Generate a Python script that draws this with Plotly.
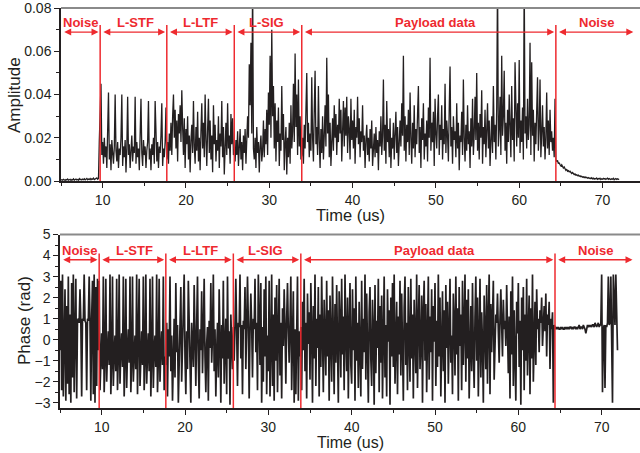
import numpy as np
import plotly.graph_objects as go

# ---------------- data (sampled every 0.1 us starting at 5.0 us) ----------------
t_start_us = 5.0
t_step_us = 0.1

# Amplitude, in units of 1e-3
amp_noise_lead = [0.3,0.6,0.4,0.8,0.5,0.3,0.7,0.5,0.9,0.4,
                  0.6,0.8,0.3,0.7,0.5,1.0,0.4,0.6,0.9,0.5,
                  0.7,0.4,1.1,0.6,0.8,0.5,0.9,0.6,1.0,0.5,
                  0.8,1.2,0.6,0.9,0.7,1.1,0.6,1.0,0.8,1.3,
                  0.7,1.0,0.9,1.4,0.8,1.2,19]
amp_stf = [30,45,12,
           18,8,20,11,16,6,22,41,10,17,
           5,19,13,8,16,40,14,9,18,6,
           15,12,20,40,7,16,11,19,4,15,
           39,12,17,6,14,21,9,16,13,39,
           8,18,11,15,5,17,38,13,7,19,
           12,16,6,14,18,37,10,15,5,17,
           12,20,8,37,14,9,18,6,16,13,
           21,36,7,15,11,18,34]
amp_ltf = [10,18,8,
           22,14,27,12,30,40,20,33,15,28,
           9,31,22,35,18,42,25,12,29,6,
           24,17,30,10,21,4,19,26,13,37,
           16,8,25,14,32,9,20,5,23,36,
           15,27,11,40,19,7,24,38,13,28,
           10,21,4,35,17,26,9,19,14,30,
           6,22,16,37,11,25,3,18,27,12,
           36,15,21,8,31,17,29,12]
amp_sig = [14,9,
           19,12,23,7,16,24,10,18,5,21,
           13,24,8,17,30,20,54,35,64,22,
           95,15,10,20,6,25,13,18,4,16,
           21,9,14,28,11,24,17,33,12,41,
           26,58,20,70,30,44,15,36,9,28,
           18,34,7,22,14,44,19,31,5,17,
           25,3,20,11,27,8,35,15,23,45,
           18,59,25,40,12,47,16,30,10]
amp_payload = [12,
    20,8,26,15,31,50,18,27,11,22,
    14,48,20,9,33,51,17,25,12,44,
    19,6,24,13,30,10,21,35,16,57,
    22,40,11,27,7,18,29,14,35,20,
    31,12,26,18,38,22,33,9,29,37,
    16,34,21,39,13,30,24,10,38,19,
    28,15,33,8,25,20,39,17,29,11,
    23,18,35,14,21,6,19,26,12,20,
    9,24,15,28,7,17,22,11,25,13,
    19,5,23,16,30,12,21,47,14,26,
    8,37,18,24,11,29,6,20,15,27,
    10,22,32,13,25,7,19,28,16,36,
    21,58,14,30,9,26,18,33,12,41,
    20,8,27,15,35,11,24,17,31,44,
    13,25,6,29,19,36,10,22,16,28,
    9,34,20,57,14,27,18,32,7,38,
    22,15,30,40,12,26,19,35,10,24,
    17,45,13,28,21,9,33,53,16,25,
    8,30,19,23,11,36,15,27,5,21,
    18,32,12,47,20,9,26,14,35,17,
    23,6,29,16,38,12,22,39,19,50,
    14,27,10,31,20,42,8,25,17,33,
    11,22,36,15,28,7,19,30,13,44,
    18,26,10,34,95,16,24,39,12,58,
    21,30,51,14,27,8,33,18,40,23,
    11,44,19,29,9,55,25,16,36,20,
    56,13,28,18,34,10,95,22,30,15,
    38,19,26,64,12,55,21,33,9,27,
    17,30,48,14,24,47,11,22,35,16,
    25,10,20,41,15,28,12,33,18,23,
    14,20,11,38]
amp_tail = [10,9,9.5,8,8.5,7.5,
    7,7.5,6.5,6,6.5,5.5,5,5.5,4.5,4.8,
    4.2,4.5,3.8,3.5,3.9,3.2,3.0,3.3,2.7,2.9,
    2.5,2.7,2.2,2.4,2.0,2.2,1.8,2.0,1.6,1.9,
    1.5,1.7,1.3,1.6,1.2,1.4,1.1,1.5,1.0,1.3,
    0.9,1.2,1.0,1.4,0.8,1.1,0.9,1.3,0.7,1.0,
    0.8,1.2,0.9,1.1,0.7,1.0,1.3,0.8,1.1,0.9,
    0.7,1.0,0.8,1.2,0.6,0.9,1.1,0.7,1.0,0.8,
    0.9]

# Phase, in units of 0.1 rad
ph_noise_lead = [-5,28,-24,31,-27,9,24,-29,16,-21,
                 30,-26,12,-30,27,-18,31,-25,8,29,
                 -28,9,10,8,24,9,-27,10,9,31,
                 9,8,-24,10,9,30,9,-29,10,28,
                 -26,31,-30,25,-22,29,-5]
ph_stf = [28,-24,-8,3,-14,30,-25,-9,
          29,-20,-6,4,-12,31,-26,-10,
          30,-22,-7,2,-15,29,-24,-8,
          31,-21,-5,3,-13,30,-27,-9,
          29,-23,-6,5,-11,30,-25,-10,
          30,-20,-8,2,-14,31,-26,-7,
          29,-22,-6,4,-12,30,-24,-9,
          31,-21,-7,3,-15,29,-27,-8,
          30,-23,-5,2,-13,31,-25,-10,
          29,-20,-6,4,-12,30,-24,-8]
ph_ltf = [-12,8,-27,
          5,-8,30,-15,2,-29,-4,10,-18,27,
          -6,7,-30,-12,3,25,-20,-2,9,31,
          -9,-26,4,-14,28,1,-7,-30,8,-3,
          -13,26,-1,-22,6,30,-10,-28,5,-5,
          23,-16,3,29,-8,-25,-2,6,-29,9,
          -4,27,-11,2,31,-15,5,-27,-6,8,
          -18,24,0,-30,7,-9,28,-21,-3,10,
          -26,30,-9,4,-31,12,-2,-14]
ph_sig = [6,-10,
          7,29,5,-22,8,6,31,-9,7,-26,
          9,5,25,-14,6,30,8,-28,4,22,
          7,-18,10,5,29,-6,8,-24,31,3,
          -12,27,-30,6,-20,24,-8,30,-26,2,
          -15,28,-27,-4,31,-22,12,-29,20,-10,
          26,-25,-6,29,-17,8,-28,15,-3,24,
          6,-21,9,27,5,-11,7,30,-24,6,
          23,-30,5,-26,8,30,-29,4,-8]
ph_payload = [6,
    -24,18,-5,29,-15,8,-28,22,-2,13,
    -19,27,4,-30,16,-9,31,-22,10,-4,
    25,-27,12,-13,30,-6,-25,19,3,-17,
    28,-8,14,-29,21,-1,-20,30,7,-26,
    17,-11,26,-3,-30,23,9,-18,29,-7,
    11,-24,31,2,-15,20,-28,6,27,-12,
    -21,24,-5,15,-29,30,-10,8,-23,18,
    1,-27,28,-14,10,-6,31,-19,22,-2,
    -30,13,25,-9,-22,19,4,-31,26,-16,
    9,-4,29,-25,16,-11,21,-28,3,30,
    -18,7,-27,24,-1,14,-31,20,-8,27,
    -13,31,-21,5,18,-26,11,-7,28,-17,
    22,-3,-29,15,30,-12,8,-24,25,0,
    -20,29,-9,12,-28,19,4,-16,31,-23,
    7,26,-14,-2,21,-30,13,28,-10,17,
    -25,3,30,-19,11,-6,24,-29,16,-1,
    27,-22,9,-13,31,-8,20,-27,5,23,
    -15,14,-30,26,-4,18,-21,10,29,-11,
    2,-26,22,8,-17,30,-7,15,-29,25,
    -3,12,-24,28,-12,6,31,-20,19,-9,
    24,-28,4,16,-15,27,-5,-23,11,30,
    -10,20,-27,7,29,-18,13,-2,-30,21,
    5,-14,26,-21,10,31,-26,17,-6,9,
    28,-19,6,12,8,22,4,-11,10,24,
    7,-8,19,5,9,-3,26,6,-16,11,
    -28,23,-7,30,-22,14,-1,-29,18,3,
    27,-13,9,-31,20,-5,25,-24,12,-10,
    29,-17,4,21,-26,15,-9,31,-20,6,
    18,-12,24,5,10,-6,14,8,20,-3,
    9,16,4,22,-8,12,7,18,-14,10,
    5,13,-30,7]
ph_tail = [6,5,6,5,6,5,
    5,6,5,6,5,5,6,5,6,5,
    6,5,6,6,5,6,5,6,6,5,
    6,5,6,7,5,6,6,5,7,6,
    5,3,6,7,6,7,6,7,6,7,
    7,6,8,7,6,7,8,6,7,7,
    31,-25,5,7,-23,7,6,8,30,7,
    8,30,6,-30,31,10,7,31,6,-5]

# Frame segments
region_bounds_us = [5.0, 9.7, 17.7, 25.8, 33.9, 64.4, 73.9]
region_labels = ["Noise", "L-STF", "L-LTF", "L-SIG", "Payload data", "Noise"]
label_centers_us = [7.35, 13.9, 21.8, 29.7, 49.9, 69.3]

# ---------------- assemble ----------------
amp = np.array(amp_noise_lead + amp_stf + amp_ltf + amp_sig + amp_payload + amp_tail) * 1e-3
phase = np.array(ph_noise_lead + ph_stf + ph_ltf + ph_sig + ph_payload + ph_tail) * 0.1
t_amp = np.round(t_start_us + t_step_us * np.arange(len(amp)), 3)
t_ph = np.round(t_start_us + t_step_us * np.arange(len(phase)), 3)

INK = "#231f20"
RED = "#ee2a2f"
FONT = "Liberation Sans, Arial, sans-serif"

fig = go.Figure()
fig.add_trace(go.Scatter(x=t_amp, y=amp, mode="lines", xaxis="x", yaxis="y",
                         line=dict(color=INK, width=1.3), showlegend=False, hoverinfo="skip"))
fig.add_trace(go.Scatter(x=t_ph, y=phase, mode="lines", xaxis="x2", yaxis="y2",
                         line=dict(color=INK, width=1.7), showlegend=False, hoverinfo="skip"))

def xax(domain, rng, anchor):
    return dict(domain=domain, range=rng, anchor=anchor, tick0=0, dtick=10,
                ticks="outside", ticklen=5, tickwidth=1.2, tickcolor=INK,
                showline=True, linecolor=INK, linewidth=1.5, showgrid=False, zeroline=False,
                tickfont=dict(family=FONT, size=14, color=INK), automargin=False,
                minor=dict(tick0=0, dtick=5, ticks="outside", ticklen=3, tickcolor=INK, showgrid=False))

def yax(domain, rng, anchor, dtick, mdtick, fmt=None):
    d = dict(domain=domain, range=rng, anchor=anchor, tick0=0, dtick=dtick,
             ticks="outside", ticklen=5, tickwidth=1.2, tickcolor=INK,
             showline=True, linecolor=INK, linewidth=1.5, showgrid=False, zeroline=False,
             tickfont=dict(family=FONT, size=14, color=INK), automargin=False,
             minor=dict(tick0=0, dtick=mdtick, ticks="outside", ticklen=3, tickcolor=INK, showgrid=False))
    if fmt:
        d["tickformat"] = fmt
    return d

top_dom = [(408 - 181) / 400, 1.0]
bot_dom = [0.0, (408 - 234.5) / 400]

shapes = []
annotations = []
for xr, yr in (("x", "y"), ("x2", "y2")):
    shapes.append(dict(type="line", xref=f"{xr} domain", yref=f"{yr} domain",
                       x0=0, x1=1, y0=1, y1=1, line=dict(color="#8a8a8a", width=2)))

arrow_y = {"y": 0.0689, "y2": 3.8}
label_y = {"y": 0.0733, "y2": 4.23}
line_y = {"y": (0.0, 0.0722), "y2": (-3.25, 4.1)}
gap = 0.2
for xr, yr in (("x", "y"), ("x2", "y2")):
    for b in region_bounds_us[1:-1]:
        shapes.append(dict(type="line", xref=xr, yref=yr, x0=b, x1=b,
                           y0=line_y[yr][0], y1=line_y[yr][1], line=dict(color=RED, width=1.5)))
    for i, lab in enumerate(region_labels):
        a, b = region_bounds_us[i], region_bounds_us[i + 1]
        annotations.append(dict(x=b - gap, y=arrow_y[yr], ax=a + gap, ay=arrow_y[yr],
                                xref=xr, yref=yr, axref=xr, ayref=yr, text="",
                                showarrow=True, arrowhead=2, arrowside="end+start",
                                arrowsize=1.0, arrowwidth=1.4, arrowcolor=RED))
        annotations.append(dict(x=label_centers_us[i], y=label_y[yr], xref=xr, yref=yr,
                                text=f"<b>{lab}</b>", showarrow=False,
                                font=dict(family=FONT, size=13, color=RED),
                                xanchor="center", yanchor="middle"))

W = 580.0
def px_x(p):
    return (p - 60) / W
def px_y(p):
    return (408 - p) / 400.0

title_font = dict(family=FONT, size=17, color=INK)
annotations += [
    dict(text="Amplitude", x=px_x(14), y=px_y(95), xref="paper", yref="paper",
         textangle=-90, showarrow=False, font=title_font, xanchor="center", yanchor="middle"),
    dict(text="Phase (rad)", x=px_x(24), y=px_y(321), xref="paper", yref="paper",
         textangle=-90, showarrow=False, font=title_font, xanchor="center", yanchor="middle"),
    dict(text="Time (us)", x=px_x(351), y=px_y(215), xref="paper", yref="paper",
         showarrow=False, font=dict(family=FONT, size=16.5, color=INK), xanchor="center", yanchor="middle"),
    dict(text="Time (us)", x=px_x(351), y=px_y(442), xref="paper", yref="paper",
         showarrow=False, font=dict(family=FONT, size=16, color=INK), xanchor="center", yanchor="middle"),
]

fig.update_layout(
    width=640, height=453,
    margin=dict(l=60, r=0, t=8, b=45, autoexpand=False),
    paper_bgcolor="white", plot_bgcolor="white",
    xaxis=xax([1 / W, 1.0], [5, 74.5], "y"),
    yaxis=yax(top_dom, [0, 0.08005], "x", 0.02, 0.01, ".2f"),
    xaxis2=xax([0.0, 1.0], [5, 74.6], "y2"),
    yaxis2=yax(bot_dom, [-3.25, 5.003], "x2", 1, 0.5),
    shapes=shapes,
    annotations=annotations,
    showlegend=False,
)

# remove the browser's default page margin so the figure sits at the window's corner
fig.write_html("out.html", config={"displayModeBar": False},
               post_script="document.body.style.margin='0';")
